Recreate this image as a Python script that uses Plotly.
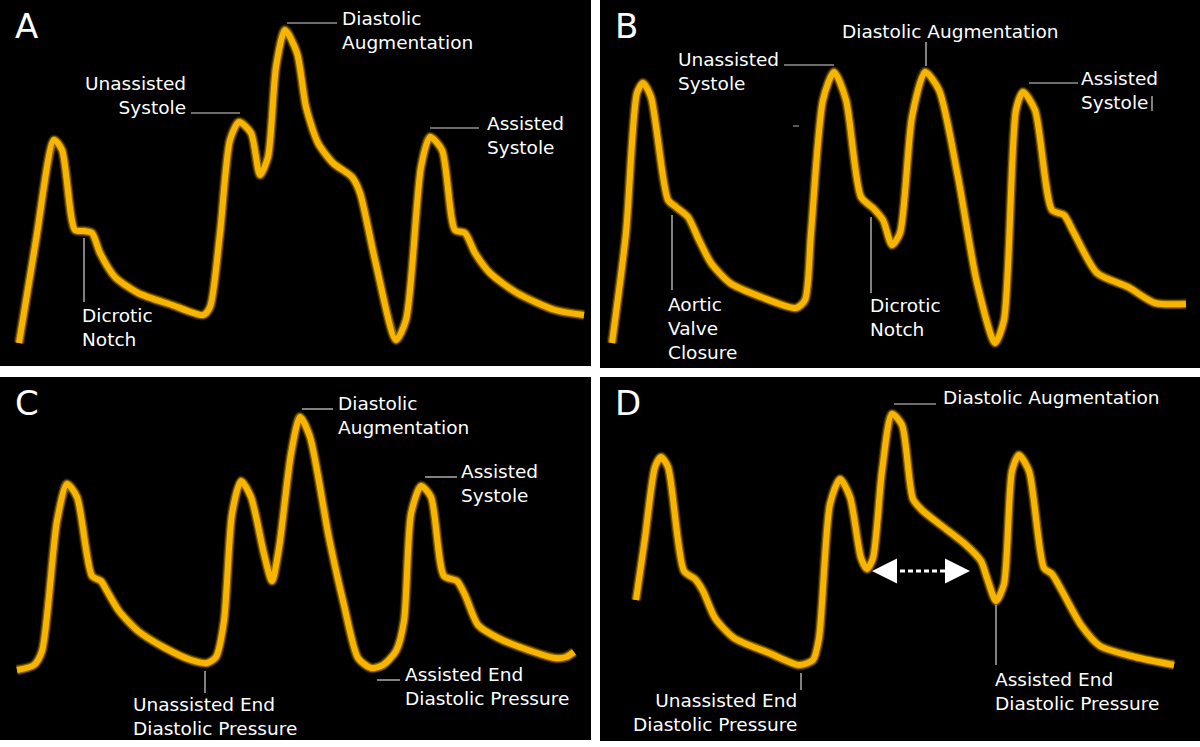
import plotly.graph_objects as go

# waveform samples (time, pressure in image pixels, y grows downward)
a_t = [19, 36, 54, 62, 75, 84, 92, 100, 115, 138, 172, 203, 210, 220, 230, 239, 251, 260, 268, 276, 285,
       297, 306, 318, 333, 352, 360, 375, 396, 406, 421, 430, 442, 455, 465, 475, 490, 517, 555, 584]
a_p = [343, 240, 140, 150, 230, 231, 233, 253, 277, 293, 305, 315, 307, 233, 140, 122, 133, 175, 157, 67, 30,
       53, 107, 143, 163, 177, 193, 260, 340, 320, 167, 137, 150, 230, 233, 253, 273, 293, 310, 315]

b_t = [612, 626, 637, 643, 651, 668, 676, 688, 699, 711, 730, 761, 796, 805, 811, 823, 834, 846, 861, 873,
       883, 892, 900, 912, 925, 939, 958, 977, 995, 1004, 1016, 1023, 1035, 1052, 1064, 1074, 1097, 1128, 1155, 1186]
b_p = [343, 233, 93, 83, 97, 200, 207, 217, 240, 263, 283, 297, 308, 300, 233, 100, 72, 100, 197, 208,
       220, 245, 233, 117, 72, 90, 177, 283, 343, 320, 110, 92, 110, 210, 215, 233, 273, 287, 303, 304]

c_t = [17, 34, 42, 57, 67, 77, 92, 101, 107, 119, 138, 165, 191, 207, 216, 224, 232, 241, 251, 264, 272,
       279, 291, 300, 310, 329, 344, 358, 371, 383, 396, 404, 411, 421, 431, 444, 457, 465, 478, 498, 528, 555, 566, 574]
c_p = [670, 665, 651, 521, 484, 497, 576, 581, 591, 611, 631, 648, 660, 663, 657, 621, 514, 481, 497, 554, 581,
       548, 454, 417, 437, 538, 605, 658, 668, 665, 651, 621, 514, 486, 497, 576, 581, 595, 625, 638, 650, 658, 657, 652]

d_t = [636, 645, 655, 661, 668, 684, 695, 703, 715, 734, 769, 799, 813, 819, 830, 840, 850, 861, 867, 873,
       882, 892, 902, 913, 923, 942, 965, 981, 987, 996, 1004, 1012, 1019, 1029, 1044, 1052, 1062, 1081, 1100, 1135, 1174]
d_p = [600, 538, 467, 457, 467, 571, 579, 591, 618, 638, 653, 665, 660, 638, 504, 479, 497, 558, 569, 558,
       471, 414, 425, 499, 511, 526, 544, 561, 578, 601, 584, 471, 455, 471, 568, 574, 591, 625, 646, 657, 665]

panel_letters = ["A", "B", "C", "D"]

W, H = 1200, 747
# panel rectangles in page pixels: x0, x1, y0, y1
panels = [(0, 591, 0, 366), (600, 1200, 0, 368), (0, 591, 377, 740), (600, 1200, 377, 741)]
waves = [(a_t, a_p), (b_t, b_p), (c_t, c_p), (d_t, d_p)]

ORANGE = "#F7B500"
TXT = dict(family="DejaVu Sans", size=18.5, color="white")

fig = go.Figure()
layout = {}
for i, ((x0, x1, y0, y1), (t, p)) in enumerate(zip(panels, waves)):
    n = "" if i == 0 else str(i + 1)
    xa, ya = "x" + n, "y" + n
    # soft glow under the trace, then the bright line itself
    for w, col in [(11, "rgba(246,175,0,0.18)"), (8.5, "rgba(246,175,0,0.45)"), (6, ORANGE)]:
        fig.add_trace(go.Scatter(x=t, y=p, xaxis=xa, yaxis=ya, mode="lines",
                                 line=dict(color=col, width=w, shape="spline", smoothing=0.7), hoverinfo="skip"))
    layout["xaxis" + n] = dict(domain=[x0 / W, x1 / W], range=[x0, x1], visible=False, fixedrange=True, anchor=ya)
    layout["yaxis" + n] = dict(domain=[1 - y1 / H, 1 - y0 / H], range=[y1, y0], visible=False, fixedrange=True,
                               anchor=xa)
    fig.add_annotation(x=x0 + 13, y=y0 + 26, xref=xa, yref=ya, text=panel_letters[i], showarrow=False,
                       xanchor="left", yanchor="middle", font=dict(family="DejaVu Sans", size=34, color="white"))

fig.update_layout(**layout)


def label(ax, x, y, text, xanchor="left"):
    n = "" if ax == 1 else str(ax)
    fig.add_annotation(x=x, y=y, xref="x" + n, yref="y" + n, text=text, showarrow=False, align=xanchor,
                       xanchor=xanchor, yanchor="middle", font=TXT)


def tick(ax, xa_, ya_, xb, yb, color="#d8d8d8", width=1.2):
    n = "" if ax == 1 else str(ax)
    fig.add_shape(type="line", x0=xa_, y0=ya_, x1=xb, y1=yb, xref="x" + n, yref="y" + n,
                  line=dict(color=color, width=width))


# panel A
label(1, 340, 30, "Diastolic<br>Augmentation")
tick(1, 287, 23, 337, 23)
label(1, 188, 95, "Unassisted<br>Systole", "right")
tick(1, 191, 113, 240, 113)
label(1, 485, 135, "Assisted<br>Systole")
tick(1, 430, 128, 479, 128)
label(1, 80, 327, "Dicrotic<br>Notch")
tick(1, 84, 238, 84, 302)

# panel B
label(2, 840, 31, "Diastolic Augmentation")
tick(2, 926, 42, 926, 66)
label(2, 676, 71, "Unassisted<br>Systole")
tick(2, 784, 65, 834, 65)
label(2, 1079, 90, "Assisted<br>Systole")
tick(2, 1029, 83, 1078, 83)
tick(2, 1152, 96, 1152, 111, color="white", width=1)
label(2, 666, 328, "Aortic<br>Valve<br>Closure")
tick(2, 672, 215, 672, 290)
label(2, 868, 317, "Dicrotic<br>Notch")
tick(2, 871, 217, 871, 293)
tick(2, 793, 126, 799, 126, color="#777777", width=1.5)

# panel C
label(3, 336, 416, "Diastolic<br>Augmentation")
tick(3, 302, 409, 333, 409)
label(3, 459, 484, "Assisted<br>Systole")
tick(3, 425, 477, 457, 477)
label(3, 131, 716, "Unassisted End<br>Diastolic Pressure")
tick(3, 205, 671, 205, 693)
label(3, 403, 686, "Assisted End<br>Diastolic Pressure")
tick(3, 377, 680, 400, 680)

# panel D
label(4, 941, 398, "Diastolic Augmentation")
tick(4, 894, 404, 936, 404)
label(4, 993, 691, "Assisted End<br>Diastolic Pressure")
tick(4, 996, 605, 996, 665)
label(4, 799, 712, "Unassisted End<br>Diastolic Pressure", "right")
tick(4, 801, 673, 801, 690)

# dashed double arrow in D
fig.add_shape(type="line", x0=884, y0=571, x1=958, y1=571, xref="x4", yref="y4",
              line=dict(color="white", width=3, dash="5px,3px"))
for head, tail in [(872, 887), (970, 955)]:
    fig.add_annotation(x=head, y=571, ax=tail, ay=571, xref="x4", yref="y4", axref="x4", ayref="y4",
                       text="", showarrow=True, arrowhead=2, arrowsize=2, arrowwidth=2.5, arrowcolor="white")

fig.update_layout(width=W, height=H, margin=dict(l=0, r=0, t=0, b=0),
                  paper_bgcolor="white", plot_bgcolor="black", showlegend=False)

# drop the browser's default page margin so the figure sits at the window corner
fig.write_html("out.html", post_script="document.body.style.margin='0';",
               config={"displayModeBar": False})
